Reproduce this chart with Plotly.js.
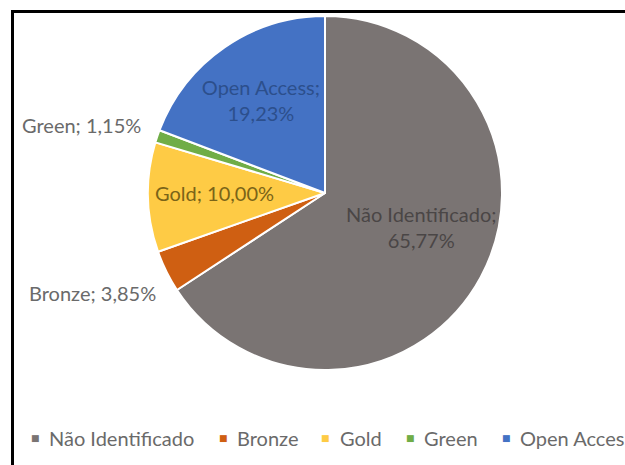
<!DOCTYPE html>
<html>
<head>
<meta charset="utf-8">
<script src="https://cdn.plot.ly/plotly-3.0.1.min.js"></script>
<style>
html,body{margin:0;padding:0;background:#fff;overflow:hidden;width:625px;height:465px;}
#frame{position:absolute;left:11px;top:10px;width:611px;height:452px;border-top:3px solid #000;border-left:3px solid #000;pointer-events:none;z-index:5;}
#chart{position:absolute;left:0;top:0;width:625px;height:465px;}
</style>
</head>
<body>
<div id="chart"></div>
<div id="frame"></div>
<script>
const categories = ["Não Identificado", "Bronze", "Gold", "Green", "Open Access"];
const shares = [65.77, 3.85, 10.00, 1.15, 19.23];
const colors = ["#7a7473", "#cf5f12", "#fecb45", "#70ad47", "#4472c4"];
const nativeInsideText = [false, false, true, false, true];
const textColors = ["#4a4646", "#6a6a6a", "#7a6418", "#6a6a6a", "#2c4f8c"];
const lineBreak = [true, false, false, false, true];

// label placement (pixels) for labels drawn as annotations and the legend row
const labelPos = {0: [421, 227, "center"], 1: [158, 293, "right"], 3: [143, 125, "right"]};
const legendTextX = [47, 235, 338, 422, 518];
const legendY = 438;

const W = 625, H = 465;
const cx = 325, cy = 193, r = 177;
const FONT = "Lato, sans-serif";

function fmt(v) { return v.toFixed(2).replace(".", ",") + "%"; }

const templates = categories.map((c, i) =>
  nativeInsideText[i] ? (lineBreak[i] ? "%{label};<br>%{percent:.2%}" : "%{label}; %{percent:.2%}") : "");

const trace = {
  type: "pie",
  labels: categories,
  values: shares,
  sort: false,
  direction: "clockwise",
  rotation: 0,
  marker: {colors: colors, line: {color: "#ffffff", width: 2}},
  texttemplate: templates,
  textposition: "inside",
  insidetextorientation: "horizontal",
  textfont: {family: FONT, size: 20, color: textColors},
  domain: {x: [(cx - r) / W, (cx + r) / W], y: [(H - cy - r) / H, (H - cy + r) / H]},
  hoverinfo: "none",
  showlegend: false
};

const annotations = [];
Object.keys(labelPos).forEach(k => {
  const i = +k, p = labelPos[k];
  annotations.push({
    xref: "paper", yref: "paper", x: p[0] / W, y: (H - p[1]) / H,
    xanchor: p[2], yanchor: "middle", showarrow: false, align: "center",
    text: categories[i] + ";" + (lineBreak[i] ? "<br>" : " ") + fmt(shares[i]),
    font: {family: FONT, size: 20, color: textColors[i]}
  });
});
categories.forEach((c, i) => {
  annotations.push({
    xref: "paper", yref: "paper", x: (legendTextX[i] - 12) / W, y: (H - legendY) / H,
    xanchor: "center", yanchor: "middle", showarrow: false,
    text: "■", font: {family: "DejaVu Sans, sans-serif", size: 9, color: colors[i]}
  });
  annotations.push({
    xref: "paper", yref: "paper", x: legendTextX[i] / W, y: (H - legendY) / H,
    xanchor: "left", yanchor: "middle", showarrow: false,
    text: c, font: {family: FONT, size: 20, color: "#6a6a6a"}
  });
});

const layout = {
  width: W, height: H,
  margin: {l: 0, r: 0, t: 0, b: 0},
  paper_bgcolor: "#ffffff",
  separators: ",.",
  showlegend: false,
  annotations: annotations
};

Plotly.newPlot("chart", [trace], layout, {staticPlot: true, displayModeBar: false});
</script>
</body>
</html>
